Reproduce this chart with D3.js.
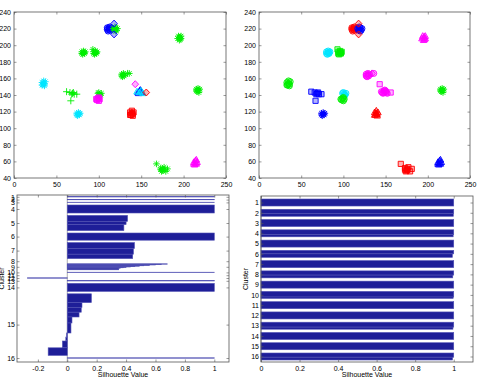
<!DOCTYPE html>
<html lang="en">
<script src="https://d3js.org/d3.v7.min.js"></script>
<style>
    body {margin: 0; background: white;}
    text {font-family: "Liberation Sans", Arial, sans-serif; font-size: 7px; fill: black;}
    .frame {fill: none; stroke: #555; stroke-width: 0.8;}
    .tick line {stroke: #555; stroke-width: 0.6;}
    .domain {display: none;}
</style>
<body>
    <svg width="479" height="380"></svg>
</body>
<script>
    // scatter data: 16 groups of points [x, y]
    var groupPoints = [
        [[110,219],[112,221],[113,218],[111,217],[114,220],[112,219],[110,221],[113,222]],
        [[119,219],[120,221],[118,218],[121,218],[119,222],[120,217],[117,220],[122,220]],
        [[195,209],[194,211],[197,208],[196,210],[193,208],[195,206],[197,211],[196,207]],
        [[82,191],[80,192],[83,190],[81,189],[84,192],[82,193],[80,190],[83,191]],
        [[96,191],[94,192],[97,190],[95,189],[98,192],[96,193],[94,190],[97,191]],
        [[35,154],[33,155],[36,153],[34,152],[37,156],[35,157],[33,152],[36,151]],
        [[62,144],[66,143],[69,142],[71,141],[74,141],[68,141],[67,133],[70,143]],
        [[101,141],[99,142],[102,140],[100,143],[103,142],[101,139]],
        [[99,136],[97,135],[100,137],[98,134],[101,135],[100,133]],
        [[76,117],[74,118],[77,116],[75,115],[78,118],[76,119],[74,116],[77,117]],
        [[129,164],[127,165],[130,163],[128,162],[131,165],[129,166],[127,163],[136,166]],
        [[146,143],[148,145],[150,144],[147,142],[149,146],[151,143]],
        [[148,143],[150,145],[145,144],[152,142]],
        [[217,146],[215,147],[218,145],[216,144],[219,147],[217,148],[215,145],[218,143]],
        [[139,118],[137,119],[140,117],[138,116],[141,119],[139,121],[137,116],[140,115]],
        [[175,51],[173,52],[176,50],[174,48],[177,53],[175,49],[173,50],[168,57],[179,48],[181,51]],
        [[214,58],[212,59],[215,57],[213,56],[216,59],[214,61],[212,57],[215,62]]
    ];
    // marker + colour of each group, left (k-means result) and right (true groups)
    var styleLeft  = ["ob","*g","*g","*g","*g","*c","+g","*g","sm","*c","*g","^b","^c","*g","sr","*g","^m"];
    var styleRight = ["or","ob","^m","oc","sg","og","sb","oc","og","*b","om","om","om","*g","^r","sr","^b"];

    // single stray points
    var extraPoints = [[118,226],[118,213],[143,153],[156,143],[134,166],[93,195]];
    var extraLeft   = ["db","db","dm","dr","+g","*g"];
    var extraRight  = ["dr","dr","sm","sm","dm","sg"];

    var xTicks = [0,50,100,150,200,250];
    var yTicks = [40,60,80,100,120,140,160,180,200,220,240];

    // silhouette data: per cluster, steps of [value, rows]
    var clusterNames = ["1","2","3","4","5","6","7","8","9","10","11","12","13","14","15","16"];
    var silLeft = [
        [[1,1]],
        [[1,1]],
        [[1,1]],
        [[1,20]],
        [[0.41,15],[0.40,8],[0.385,15]],
        [[1,18]],
        [[0.457,15],[0.45,14],[0.445,11]],
        [[0,1]],
        [[0.68,1],[0.64,1],[0.60,1],[0.56,1],[0.52,1],[0.49,1],[0.46,1],[0.43,1],[0.40,1],[0.38,1],[0.36,1],[0.35,4]],
        [[1,1]],
        [[0,1]],
        [[-0.27,1]],
        [[1,1]],
        [[1,20]],
        [[0.164,22],[0.10,12],[0.095,12],[0.08,12],[0.032,15],[0.025,25],[-0.005,10],[-0.01,10],[-0.033,17],[-0.13,19]],
        [[1,1]]
    ];
    var silRight = [
        [[1,20]],
        [[1,12],[0.998,8]],
        [[1,20]],
        [[1,14],[0.997,6]],
        [[1,20]],
        [[1,10],[0.993,10]],
        [[1,20]],
        [[1,12],[0.995,8]],
        [[1,20]],
        [[1,16],[0.997,4]],
        [[1,20]],
        [[1,20]],
        [[1,14],[0.996,6]],
        [[1,20]],
        [[1,20]],
        [[1,12],[0.994,8]]
    ];
    var silLeftTicks = [-0.2,0,0.2,0.4,0.6,0.8,1];
    var silRightTicks = [0,0.2,0.4,0.6,0.8,1];

    var colors = {r:"#ff0000", g:"#00ee00", b:"#0000ff", c:"#00e5ff", m:"#ff00ff"};
    var svg = d3.select("svg");

    function markerPath(t){
        var k = 2.3;
        if(t=="o"){ var p = d3.path(); p.arc(0,0,3,0,2*Math.PI); return p.toString(); }
        if(t=="s") return "M-2.6,-2.6h5.2v5.2h-5.2Z";
        if(t=="d") return "M0,-3.5L3.3,0L0,3.5L-3.3,0Z";
        if(t=="^") return "M0,-3.4L3.2,2.3L-3.2,2.3Z";
        if(t=="*") return "M-3.3,0H3.3M0,-3.3V3.3M"+(-k)+","+(-k)+"L"+k+","+k+"M"+(-k)+","+k+"L"+k+","+(-k);
        return "M-3.5,0H3.5M0,-3.5V3.5";
    }

    function drawMarks(g, x, y, pts, style){
        var t = style[0], c = colors[style[1]];
        var open = (t=="*" || t=="+");
        g.selectAll(null).data(pts).enter().append("path")
            .attr("d", markerPath(t))
            .attr("transform", function(d){return "translate("+x(d[0])+","+y(d[1])+")";})
            .attr("fill", open ? "none" : c)
            .attr("fill-opacity", 0.3)
            .attr("stroke", c)
            .attr("stroke-width", 0.9);
    }

    function frame(g, box){
        g.append("rect").attr("class","frame")
            .attr("x", box.left).attr("y", box.top)
            .attr("width", box.right-box.left).attr("height", box.bottom-box.top);
    }

    function scatter(box, styles, extraStyles){
        var g = svg.append("g");
        var x = d3.scaleLinear().domain([0,250]).range([box.left, box.right]);
        var y = d3.scaleLinear().domain([40,240]).range([box.bottom, box.top]);
        g.append("g").attr("transform","translate(0,"+box.bottom+")")
            .call(d3.axisBottom(x).tickValues(xTicks).tickSize(-2.5).tickSizeOuter(0).tickPadding(4));
        g.append("g").attr("transform","translate(0,"+box.top+")")
            .call(d3.axisTop(x).tickValues(xTicks).tickSize(-2.5).tickSizeOuter(0).tickFormat(""));
        g.append("g").attr("transform","translate("+box.left+",0)")
            .call(d3.axisLeft(y).tickValues(yTicks).tickSize(-2.5).tickSizeOuter(0).tickPadding(3));
        g.append("g").attr("transform","translate("+box.right+",0)")
            .call(d3.axisRight(y).tickValues(yTicks).tickSize(-2.5).tickSizeOuter(0).tickFormat(""));
        groupPoints.forEach(function(pts, i){ drawMarks(g, x, y, pts, styles[i]); });
        extraPoints.forEach(function(p, i){ drawMarks(g, x, y, [p], extraStyles[i]); });
        frame(g, box);
    }

    function silhouette(box, data, xDomain, ticks, pad, gap){
        var g = svg.append("g");
        var rows = [], centers = [], pos = pad[0];
        data.forEach(function(steps){
            var start = pos;
            steps.forEach(function(st){ rows.push({v: st[0], y0: pos, y1: pos+st[1]}); pos += st[1]; });
            centers.push((start+pos)/2);
            pos += gap;
        });
        var total = pos - gap + pad[1];
        var x = d3.scaleLinear().domain(xDomain).range([box.left, box.right]);
        var y = d3.scaleLinear().domain([0,total]).range([box.top, box.bottom]);

        g.append("line").attr("x1", x(0)).attr("x2", x(0)).attr("y1", box.top).attr("y2", box.bottom)
            .attr("stroke", "#777").attr("stroke-width", 0.6);
        g.selectAll(null).data(rows.filter(function(d){return d.v!=0;})).enter().append("rect")
            .attr("x", function(d){return Math.min(x(0), x(d.v));})
            .attr("width", function(d){return Math.abs(x(d.v)-x(0));})
            .attr("y", function(d){return y(d.y0);})
            .attr("height", function(d){return y(d.y1)-y(d.y0);})
            .attr("fill", "#1e1e98")
            .attr("stroke", "#5050b4")
            .attr("stroke-width", 0.6);

        g.append("g").attr("transform","translate(0,"+box.bottom+")")
            .call(d3.axisBottom(x).tickValues(ticks).tickFormat(function(d){return String(d);}).tickSize(-2.5).tickSizeOuter(0).tickPadding(4));
        g.append("g").attr("transform","translate(0,"+box.top+")")
            .call(d3.axisTop(x).tickValues(ticks).tickSize(-2.5).tickSizeOuter(0).tickFormat(""));
        g.append("g").attr("transform","translate("+box.left+",0)")
            .call(d3.axisLeft(y).tickValues(centers).tickFormat(function(d,i){return clusterNames[i];}).tickSize(-2.5).tickSizeOuter(0).tickPadding(2));
        g.append("g").attr("transform","translate("+box.right+",0)")
            .call(d3.axisRight(y).tickValues(centers).tickSize(-2.5).tickSizeOuter(0).tickFormat(""));
        frame(g, box);

        g.append("text").attr("x", (box.left+box.right)/2).attr("y", box.bottom+15)
            .attr("text-anchor","middle").text("Silhouette Value");
        g.append("text").attr("transform","translate("+(box.left-13)+","+((box.top+box.bottom)/2)+") rotate(-90)")
            .attr("text-anchor","middle").text("Cluster");
    }

    scatter({left:14, right:226, top:12, bottom:178}, styleLeft, extraLeft);
    scatter({left:259, right:470, top:12, bottom:178}, styleRight, extraRight);
    silhouette({left:17, right:229, top:195, bottom:362}, silLeft, [-0.342,1.1], silLeftTicks, [4,9.5], 6);
    silhouette({left:261, right:473, top:196, bottom:362}, silRight, [0,1.1], silRightTicks, [8.6,5.7], 9.3);
</script>
</html>
